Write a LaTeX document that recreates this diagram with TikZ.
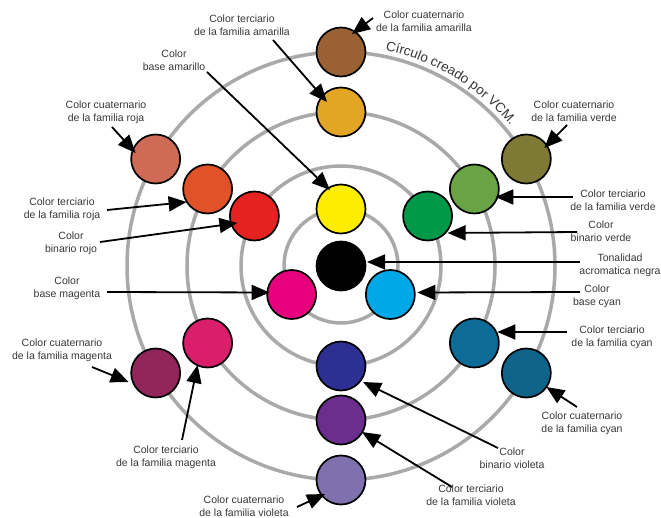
\documentclass[tikz,border=0pt]{standalone}
\usepackage{fontspec}
\setmainfont{Liberation Sans}
\usetikzlibrary{arrows.meta,calc,decorations.text}
\definecolor{ringgray}{HTML}{A9A9A9}
\definecolor{txtgray}{HTML}{383838}
\definecolor{cYellow}{HTML}{FFED00}
\definecolor{cMag}{HTML}{E6007E}
\definecolor{cCyan}{HTML}{00A8E8}
\definecolor{cRed}{HTML}{E42320}
\definecolor{cGreen}{HTML}{00994A}
\definecolor{cBlue}{HTML}{2D3092}
\definecolor{cOrange}{HTML}{E05228}
\definecolor{cYG}{HTML}{6AA343}
\definecolor{cGold}{HTML}{E3A524}
\definecolor{cPurple}{HTML}{6B2D8E}
\definecolor{cTealA}{HTML}{0D6C97}
\definecolor{cPink}{HTML}{D91E6B}
\definecolor{cBrown}{HTML}{9A6232}
\definecolor{cSalmon}{HTML}{CE6A55}
\definecolor{cOlive}{HTML}{7E7934}
\definecolor{cMaroon}{HTML}{922559}
\definecolor{cTealB}{HTML}{0F648A}
\definecolor{cLilac}{HTML}{8070AE}
\begin{document}
\begin{tikzpicture}[x=1pt,y=1pt,
  dot/.style={circle,draw=black,line width=1.7pt,minimum size=49pt,inner sep=0pt},
  ring/.style={draw=ringgray,line width=3.5pt},
  lbl/.style={align=center,font=\fontsize{10.5}{13}\selectfont,text=txtgray,inner sep=0pt},
  arr/.style={line width=1.8pt,-{Triangle[length=18pt,width=15pt]}}]
\useasboundingbox[fill=white] (0,0) rectangle (661,517);
\coordinate (C) at (341,251);
% rings
\foreach \r in {57,100,154,214} \draw[ring] (C) circle[radius=\r];
% arc title
\path[decoration={text along path,text color=txtgray,
  text={|\fontsize{13.5}{14}\selectfont|Círculo creado por VCM.},text align=center},decorate]
  ($(C)+(85:220)$) arc[start angle=85,end angle=33,radius=220];
% colour circles
\node[dot,fill=black]   (black)  at (C) {};
\node[dot,fill=cYellow] (yellow) at ($(C)+(90:57)$) {};
\node[dot,fill=cMag]    (magenta) at ($(C)+(210:57)$) {};
\node[dot,fill=cCyan]   (cyan)   at ($(C)+(330:57)$) {};
\node[dot,fill=cRed]    (red)    at ($(C)+(150:100)$) {};
\node[dot,fill=cGreen]  (green)  at ($(C)+(30:100)$) {};
\node[dot,fill=cBlue]   (blue)   at ($(C)+(270:100)$) {};
\node[dot,fill=cOrange] (orange) at ($(C)+(150:154)$) {};
\node[dot,fill=cYG]     (yg)     at ($(C)+(30:154)$) {};
\node[dot,fill=cGold]   (gold)   at ($(C)+(90:154)$) {};
\node[dot,fill=cPink]   (pink)   at ($(C)+(210:154)$) {};
\node[dot,fill=cTealA]  (tealA)  at ($(C)+(330:154)$) {};
\node[dot,fill=cPurple] (purple) at ($(C)+(270:154)$) {};
\node[dot,fill=cSalmon] (salmon) at ($(C)+(150:214)$) {};
\node[dot,fill=cOlive]  (olive)  at ($(C)+(30:214)$) {};
\node[dot,fill=cBrown]  (brown)  at ($(C)+(90:214)$) {};
\node[dot,fill=cMaroon] (maroon) at ($(C)+(210:214)$) {};
\node[dot,fill=cTealB]  (tealB)  at ($(C)+(330:214)$) {};
\node[dot,fill=cLilac]  (lilac)  at ($(C)+(270:214)$) {};
% labels
\node[lbl] (tYt) at (242,492) {Color terciario\\de la familia amarilla};
\node[lbl] (tYq) at (424,496) {Color cuaternario\\de la familia amarilla};
\node[lbl] (tYb) at (174,457) {Color\\base amarillo};
\node[lbl] (tRq) at (106,405) {Color cuaternario\\de la familia roja};
\node[lbl] (tRt) at (62,308) {Color terciario\\de la familia roja};
\node[lbl] (tRb) at (71,274) {Color\\binario rojo};
\node[lbl] (tMb) at (67,229) {Color\\base magenta};
\node[lbl] (tGq) at (574,406) {Color cuaternario\\de la familia verde};
\node[lbl] (tGt) at (613,317) {Color terciario\\de la familia verde};
\node[lbl] (tGb) at (601,286) {Color\\binario verde};
\node[lbl] (tK)  at (620,252) {Tonalidad\\acromatica negra};
\node[lbl] (tCb) at (597,221) {Color\\base cyan};
\node[lbl] (tCt) at (612,180) {Color terciario\\de la familia cyan};
\node[lbl] (tCq) at (582,94) {Color cuaternario\\de la familia cyan};
\node[lbl] (tBb) at (512,59) {Color\\binario violeta};
\node[lbl] (tVt) at (471,22) {Color terciario\\de la familia violeta};
\node[lbl] (tVq) at (244,11) {Color cuaternario\\de la familia violeta};
\node[lbl] (tMq) at (62,167) {Color cuaternario\\de la familia magenta};
\node[lbl] (tMt) at (166,60) {Color terciario\\de la familia magenta};
% arrow tails
\coordinate (a1) at (273,477);
\coordinate (a2) at (373,499);
\coordinate (a3) at (207,445);
\coordinate (a4) at (112,390);
\coordinate (a5) at (107,307);
\coordinate (a6) at (100,275);
\coordinate (a7) at (107,225);
\coordinate (a8) at (567,392);
\coordinate (a9) at (573,320);
\coordinate (a10) at (577,285);
\coordinate (a11) at (580,255);
\coordinate (a12) at (580,225);
\coordinate (a13) at (567,185);
\coordinate (a14) at (577,110);
\coordinate (a15) at (498,69);
\coordinate (a16) at (452,30);
\coordinate (a17) at (297,10);
\coordinate (a18) at (92,150);
\coordinate (a19) at (182,77);
% arrows
\draw[arr] (a1) -- ($(gold)+(-14,10)$);
\draw[arr] (a2) -- ($(brown)+(11,18)$);
\draw[arr] (a3) -- ($(yellow)+(-11,19)$);
\draw[arr] (a4) -- ($(salmon)+(-20,6)$);
\draw[arr] (a5) -- ($(orange)+(-21,-13)$);
\draw[arr] (a6) -- ($(red)+(-17,-7)$);
\draw[arr] (a7) -- ($(magenta)+(-22,2)$);
\draw[arr] (a8) -- ($(olive)+(18,11)$);
\draw[arr] (a9) -- ($(yg)+(21,-8)$);
\draw[arr] (a10) -- ($(green)+(20,-17)$);
\draw[arr] (a11) -- ($(black)+(26,4)$);
\draw[arr] (a12) -- ($(cyan)+(27,2)$);
\draw[arr] (a13) -- ($(tealA)+(23,11)$);
\draw[arr] (a14) -- ($(tealB)+(20,-14)$);
\draw[arr] (a15) -- ($(blue)+(22,-16)$);
\draw[arr] (a16) -- ($(purple)+(21,-12)$);
\draw[arr] (a17) -- ($(lilac)+(-16,-14)$);
\draw[arr] (a18) -- ($(maroon)+(-27,-9)$);
\draw[arr] (a19) -- ($(pink)+(-10,-22)$);
\end{tikzpicture}
\end{document}
